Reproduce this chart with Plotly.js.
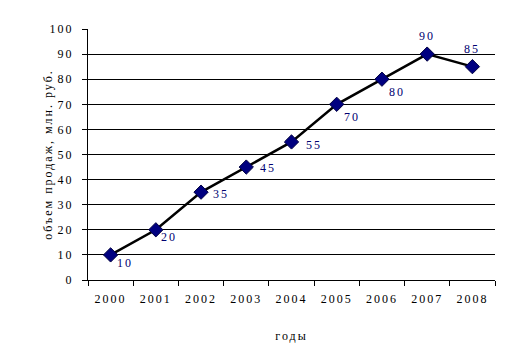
<!DOCTYPE html>
<html><head><meta charset="utf-8">
<script src="https://cdn.plot.ly/plotly-3.0.1.min.js"></script>
<style>
html,body{margin:0;padding:0;background:#fff;}
#chart .main-svg text{letter-spacing:2px;}
</style>
</head><body>
<div id="chart" style="width:512px;height:358px;"></div>
<script>
const years = ["2000","2001","2002","2003","2004","2005","2006","2007","2008"];
const sales = [10, 20, 35, 45, 55, 70, 80, 90, 85];
const yTicks = [0,10,20,30,40,50,60,70,80,90,100];
const gridVals = [10,20,30,40,50,60,70,80,90];

// label offsets (style, in pixels) relative to each point
const labelDx = [6, 5, 12, 14, 14, 7, 7, -8, -8];
const labelDy = [-8, -7, -2, -1, -3, -13, -13, 18, 18];

const fam = "Liberation Serif";
const trace = {
  x: years, y: sales, type: "scatter", mode: "lines+markers",
  line: {color: "#000", width: 2.5},
  marker: {symbol: "diamond", size: 11, color: "#000080", line: {color: "#000040", width: 1}},
  cliponaxis: false, hoverinfo: "none"
};
const gridTrace = {x: years, y: sales, yaxis: "y2", mode: "none", type: "scatter", hoverinfo: "none", showlegend: false};

// category axis: annotation x is the category's serial index
const annotations = years.map((yr, i) => ({
  x: years.indexOf(yr), y: sales[i], xref: "x", yref: "y", text: String(sales[i]), showarrow: false,
  xanchor: "left", yanchor: "middle", xshift: labelDx[i], yshift: labelDy[i],
  font: {family: fam, size: 12, color: "#000070"}
}));

const font = {family: fam, size: 12, color: "#000"};
Plotly.newPlot("chart", [gridTrace, trace], {
  width: 512, height: 358,
  margin: {l: 88, r: 17, t: 29, b: 78},
  paper_bgcolor: "#fff", plot_bgcolor: "#fff",
  showlegend: false,
  font: font,
  annotations: annotations,
  xaxis: {
    type: "category", range: [-0.5, 8.5], tickson: "boundaries", ticks: "outside", ticklen: 5, tickcolor: "#000",
    showline: true, linecolor: "#000", linewidth: 1, showgrid: false, zeroline: false,
    tickfont: font, ticklabelstandoff: 8, automargin: false,
    title: {text: "годы", font: font, standoff: 26}
  },
  yaxis: {
    range: [0, 100], tickvals: yTicks, ticks: "outside", ticklen: 5, tickcolor: "#000",
    showline: true, linecolor: "#000", linewidth: 1, showgrid: false, zeroline: false,
    tickfont: font, ticklabelstandoff: 6, automargin: false,
    title: {text: "объем продаж, млн. руб.", font: font, standoff: 0}
  },
  yaxis2: {
    overlaying: "y", range: [0, 100], tickvals: gridVals, showticklabels: false, ticks: "",
    showgrid: true, gridcolor: "#000", gridwidth: 1, zeroline: false, showline: false, automargin: false
  }
}, {displayModeBar: false, staticPlot: true});
</script>
</body></html>
